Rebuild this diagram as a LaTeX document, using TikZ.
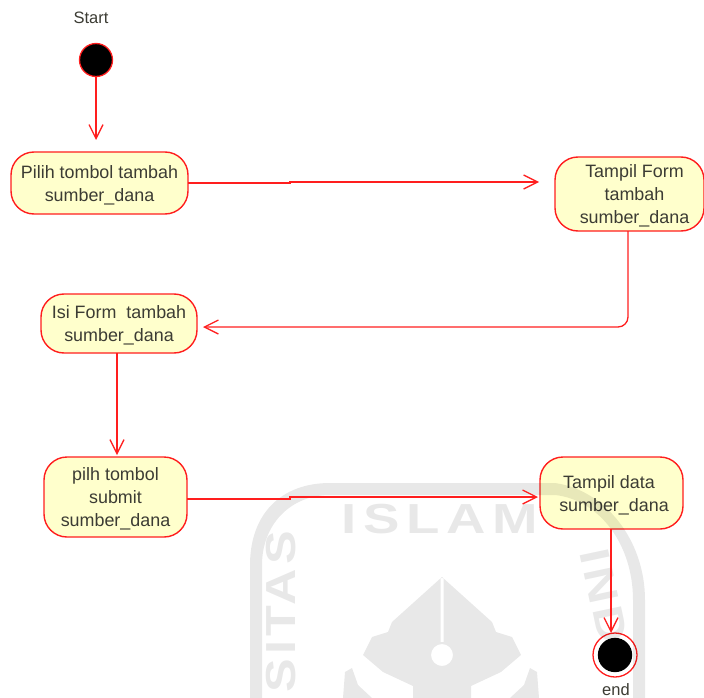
\documentclass[tikz,border=0pt]{standalone}
\usepackage{xcolor}
\usepackage{fontspec}
\setmainfont{Liberation Sans}
\newfontfamily\markfont[LetterSpace=10,FakeStretch=1.2]{Liberation Sans Bold}
\newfontfamily\islamfont[LetterSpace=16,FakeStretch=1.3]{Liberation Sans Bold}
\newcommand{\lift}{\rule{0pt}{17pt}}
\usetikzlibrary{arrows.meta}
\usetikzlibrary{calc,positioning,shapes.geometric}
\definecolor{color1}{RGB}{255,255,204}
\definecolor{color2}{RGB}{255,30,30}
\definecolor{color3}{RGB}{60,60,52}
\tikzset{%
  >={Straight Barb[width=14pt,length=14pt]},
  % Specifications for style of nodes:
  base/.style = {rectangle, rounded corners=23pt, draw=color2, fill=color1,
    line width=1.4pt, inner sep=0pt, outer sep=0pt,
    text centered, text=color3, font=\fontsize{17.9}{23}\selectfont},
  flow/.style = {->, draw=color2, line width=1.3pt},
  dot/.style = {circle, draw=color2, fill=black, line width=1.3pt,
    inner sep=0pt, outer sep=0pt},
  caption/.style = {text=color3, font=\fontsize{16.5}{18}\selectfont},
  wm/.style = {fill=black, opacity=.09},
  wmtext/.style = {text=black, text opacity=.09, font=\markfont\fontsize{42}{42}\selectfont},
}

\begin{document}
\begin{tikzpicture}[x=1pt,y=-1pt, align=center]
        \useasboundingbox (0,0) rectangle (704,698);
        % Specification of nodes (position, etc.)
        \node(StartLabel)[caption] at (91,18){Start};
        \node(Start)[dot,minimum size=33pt] at (96,60){};
        \node(PilihTambah)[base,minimum width=177pt,minimum height=62pt] at (99.5,183){\lift Pilih tombol tambah \\ sumber\_dana};
        \node(TampilForm)[base,minimum width=149pt,minimum height=74pt] at (629.5,194){\lift \hspace*{10pt}Tampil Form \\ \hspace*{10pt}tambah \\ \hspace*{10pt}sumber\_dana};
        \node(IsiForm)[base,minimum width=156pt,minimum height=59pt] at (119,323.5){\lift Isi Form~ tambah \\ sumber\_dana};
        \node(PilihSubmit)[base,minimum width=143pt,minimum height=80pt] at (115.5,497){\lift pilh tombol \\ submit \\ sumber\_dana};
        \node(TampilData)[base,minimum width=143pt,minimum height=72pt] at (611.5,493){\lift Tampil data\hspace*{5pt} \\ \hspace*{5pt}sumber\_dana};
        \node(End)[dot,fill=white,minimum size=44pt] at (615,655){};
        \node(EndDot)[dot,draw=black,minimum size=33pt] at (End){};
        \node(EndLabel)[caption] at (616,690){end};
        % Watermark
        \fill[wm,even odd rule] (442,577) -- (392,622) -- (388,632) -- (372,637) -- (363,655) -- (383,672) -- (413,686) -- (413,698) -- (471,698) -- (471,686) -- (501,672) -- (521,655) -- (512,637) -- (496,632) -- (492,622) -- cycle
          (440.5,578) rectangle (443.5,642) (442,655) circle (11);
        \fill[wm] (343,698) -- (345,672) -- (352,668) -- (358,685) -- (372,698) -- cycle;
        \fill[wm] (539,698) -- (537,672) -- (530,668) -- (524,685) -- (510,698) -- cycle;
        \fill[wm,even odd rule] (250,698) -- (250,565) .. controls (250,515) and (280,483) .. (330,483) -- (555,483) .. controls (605,490) and (645,540) .. (645,600) -- (645,698) -- (633,698) -- (633,600) .. controls (633,545) and (600,500) .. (555,495) -- (330,495) .. controls (290,495) and (262,525) .. (262,565) -- (262,698) -- cycle;
        \node(WmIslam)[wmtext,font=\islamfont\fontsize{42}{42}\selectfont] at (440,519){ISLAM};
        \node(WmSitas)[wmtext,rotate=90] at (281,612){SITAS};
        \node(WmInd)[wmtext,rotate=-78] at (604,596){IND};
        % Connectors
        \draw[flow,shorten >=12pt](Start) -- (Start |- PilihTambah.north);
        \draw[flow,shorten >=16pt](PilihTambah.east) -- ++(102,0) -- ++(0,-1) -- (TampilForm.west |- 0,182);
        \draw[flow,rounded corners=10pt,shorten >=6pt](TampilForm.south -| 628,0) -- (628,327) -- (IsiForm.east |- 0,327);
        \draw[flow,shorten >=2pt](IsiForm.south -| 117,0) -- (PilihSubmit.north -| 117,0);
        \draw[flow,shorten >=2pt](PilihSubmit.east |- 0,499) -- (290,499) -- (290,497) -- (TampilData.west |- 0,497);
        \draw[flow,shorten >=0pt](TampilData.south -| 611,0) -- (End.north -| 611,0);
\end{tikzpicture}
\end{document}
